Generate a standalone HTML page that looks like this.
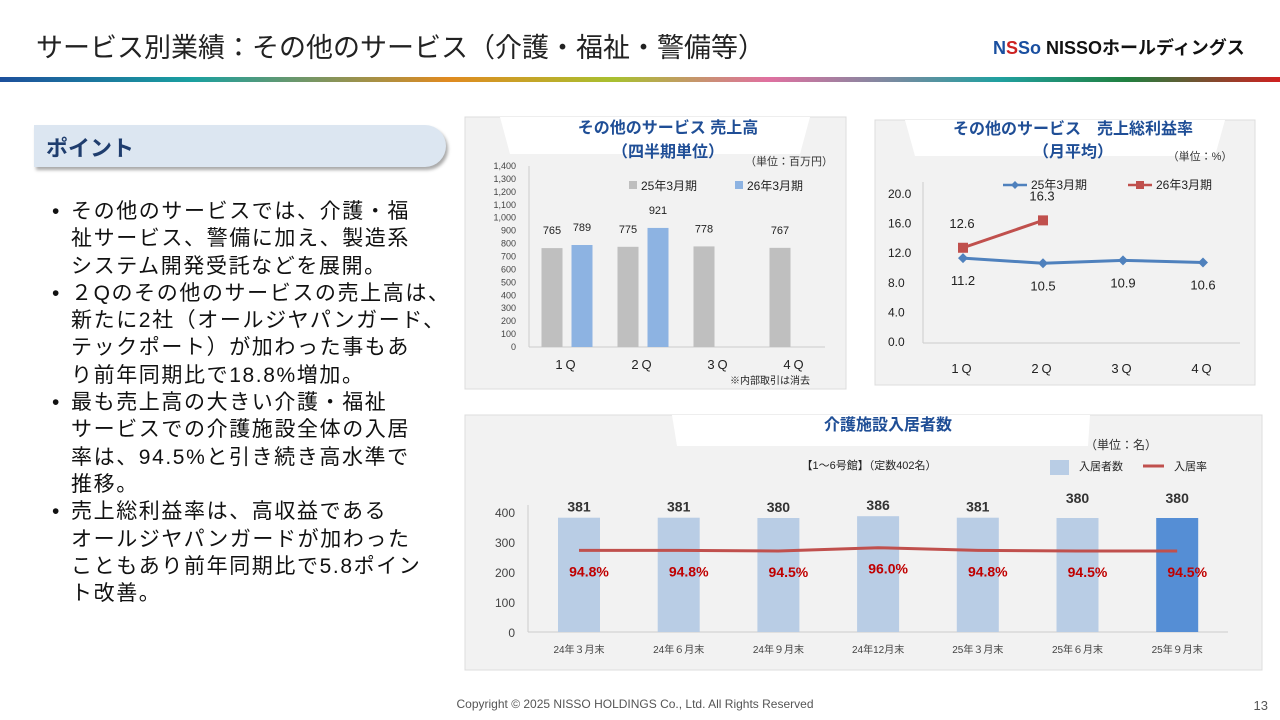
<!DOCTYPE html>
<html><head><meta charset="utf-8">
<style>
body{margin:0;width:1280px;height:720px;background:#fff;position:relative;overflow:hidden;font-family:"Liberation Sans","Noto Sans CJK JP",sans-serif;}
.abs{position:absolute;}
svg text{font-family:"Liberation Sans","Noto Sans CJK JP",sans-serif;}
.bl{display:flex;white-space:nowrap;}
.bl span:first-child{width:19px;letter-spacing:0;}
</style></head><body>
<div class="abs" style="left:36px;top:26px;font-size:27px;color:#222;white-space:nowrap;">サービス別業績：その他のサービス（介護・福祉・警備等）</div>
<div class="abs" style="left:993px;top:34px;font-size:18px;font-weight:bold;color:#111;white-space:nowrap;"><span style="color:#1a4fa0;">N<span style="color:#c22">S</span>So</span> NISSOホールディングス</div>
<div class="abs" style="left:0;top:77px;width:1280px;height:5px;background:linear-gradient(90deg,#1c4f9c,#1aa0a0 15%,#e08a20 35%,#a8c030 48%,#e070a0 60%,#20a0a0 78%,#208040 88%,#d02020);"></div>

<div class="abs" style="left:34px;top:125px;width:412px;height:42px;background:#dce6f1;border-radius:0 22px 22px 0;box-shadow:2px 3px 3px #aaa;"></div>
<div class="abs" style="left:46px;top:131px;font-size:22px;font-weight:bold;color:#1f3d6e;">ポイント</div>
<div class="abs" style="left:52px;top:198px;width:420px;font-size:21px;line-height:27.3px;color:#111;letter-spacing:1.6px;">
<div class="bl"><span>•</span><span>その他のサービスでは、介護・福<br>祉サービス、警備に加え、製造系<br>システム開発受託などを展開。</span></div>
<div class="bl"><span>•</span><span>２Qのその他のサービスの売上高は、<br>新たに2社（オールジヤパンガード、<br>テックポート）が加わった事もあ<br>り前年同期比で18.8%増加。</span></div>
<div class="bl"><span>•</span><span>最も売上高の大きい介護・福祉<br>サービスでの介護施設全体の入居<br>率は、94.5%と引き続き高水準で<br>推移。</span></div>
<div class="bl"><span>•</span><span>売上総利益率は、高収益である<br>オールジヤパンガードが加わった<br>こともあり前年同期比で5.8ポイン<br>ト改善。</span></div>
</div>

<svg class="abs" style="left:0;top:0" width="1280" height="720">
<g>
<rect x="465" y="117" width="381" height="272" fill="#f2f2f2" stroke="#ddd"/>
<polygon points="500,117 810,117 800,154 510,154" fill="#fff"/>
<text x="668" y="133" text-anchor="middle" font-size="16" font-weight="bold" fill="#1f4e96">その他のサービス 売上高</text>
<text x="668" y="157" text-anchor="middle" font-size="16" font-weight="bold" fill="#1f4e96">（四半期単位）</text>
<text x="789" y="165" text-anchor="middle" font-size="11" fill="#333">（単位：百万円）</text>
<rect x="629" y="181" width="8" height="8" fill="#bfbfbf"/><text x="641" y="190" font-size="12" fill="#222">25年3月期</text>
<rect x="735" y="181" width="8" height="8" fill="#8db3e2"/><text x="747" y="190" font-size="12" fill="#222">26年3月期</text>
<text x="810" y="384" text-anchor="end" font-size="10" fill="#222">※内部取引は消去</text>
<g id="c1"></g>
</g>
<g>
<rect x="875" y="120" width="380" height="265" fill="#f2f2f2" stroke="#ddd"/>
<polygon points="905,120 1225,120 1215,156 915,156" fill="#fff"/>
<text x="1073" y="134" text-anchor="middle" font-size="16" font-weight="bold" fill="#1f4e96">その他のサービス　売上総利益率</text>
<text x="1073" y="157" text-anchor="middle" font-size="16" font-weight="bold" fill="#1f4e96">（月平均）</text>
<text x="1200" y="160" text-anchor="middle" font-size="11" fill="#333">（単位：%）</text>
<line x1="1003" y1="185" x2="1027" y2="185" stroke="#4f81bd" stroke-width="2.5"/><polygon points="1015,181 1019,185 1015,189 1011,185" fill="#4f81bd"/>
<text x="1031" y="189" font-size="12" fill="#222">25年3月期</text>
<line x1="1128" y1="185" x2="1152" y2="185" stroke="#c0504d" stroke-width="2.5"/><rect x="1136" y="181" width="8" height="8" fill="#c0504d"/>
<text x="1156" y="189" font-size="12" fill="#222">26年3月期</text>
<g id="c2"></g>
</g>
<g>
<rect x="465" y="415" width="797" height="255" fill="#f2f2f2" stroke="#ddd"/>
<polygon points="672,415 1090,415 1088,446 677,446" fill="#fff"/>
<text x="888" y="430" text-anchor="middle" font-size="16" font-weight="bold" fill="#1f4e96">介護施設入居者数</text>
<text x="1121" y="449" text-anchor="middle" font-size="12" fill="#333">（単位：名）</text>
<text x="869" y="469" text-anchor="middle" font-size="11" fill="#222">【1～6号館】（定数402名）</text>
<rect x="1050" y="460" width="19" height="15" fill="#b9cde5"/><text x="1079" y="470" font-size="11" fill="#222">入居者数</text>
<line x1="1143" y1="466" x2="1164" y2="466" stroke="#c0504d" stroke-width="3"/><text x="1174" y="470" font-size="11" fill="#222">入居率</text>
<g id="c3"></g>
</g>
<text x="635" y="708" text-anchor="middle" font-size="12" fill="#555">Copyright © 2025 NISSO HOLDINGS Co., Ltd. All Rights Reserved</text>
<text x="1268" y="710" text-anchor="end" font-size="13" fill="#555">13</text>
</svg>
<script>
const salesCats=['1Q','2Q','3Q','4Q'];
const sales25=[765,775,778,767];
const sales26=[789,921,null,null];
const salesTicks=[0,100,200,300,400,500,600,700,800,900,1000,1100,1200,1300,1400];
const marginCats=['1Q','2Q','3Q','4Q'];
const margin25=[11.2,10.5,10.9,10.6];
const margin26=[12.6,16.3,null,null];
const marginTicks=[0,4,8,12,16,20];
const occCats=['24年３月末','24年６月末','24年９月末','24年12月末','25年３月末','25年６月末','25年９月末'];
const occValues=[381,381,380,386,381,380,380];
const occRates=[94.8,94.8,94.5,96.0,94.8,94.5,94.5];
const occTicks=[0,100,200,300,400];
const NS='http://www.w3.org/2000/svg';
function mk(p,t,a,txt){const e=document.createElementNS(NS,t);for(const k in a)e.setAttribute(k,a[k]);if(txt!=null)e.textContent=txt;p.appendChild(e);return e;}
// chart 1
(function(){const g=document.getElementById('c1');
const y=v=>347-v*181/1400, x=i=>567+i*76;
mk(g,'line',{x1:529,y1:166,x2:529,y2:347,stroke:'#ccc'});
mk(g,'line',{x1:529,y1:347,x2:825,y2:347,stroke:'#ccc'});
salesTicks.forEach(t=>{const e=mk(g,'text',{x:516,y:y(t)+3,'text-anchor':'end','font-size':9,fill:'#444'},t.toLocaleString('en-US'));

});
salesCats.forEach((c,i)=>{const e=mk(g,'text',{x:x(i),y:369,'text-anchor':'middle','font-size':13,fill:'#222','letter-spacing':'3'},c);


[[sales25[i],-15,'#bfbfbf'],[sales26[i],15,'#8db3e2']].forEach(([v,o,col])=>{if(v==null)return;
const r=mk(g,'rect',{x:x(i)+o-10.5,y:y(v),width:21,height:347-y(v),fill:col});


const lbl=mk(g,'text',{x:x(i)+o,y:y(v)-14,'text-anchor':'middle','font-size':11,fill:'#222'},v);

});});})();
// chart 2
(function(){const g=document.getElementById('c2');
const y=v=>341-v*7.4, x=i=>963+i*80;
mk(g,'line',{x1:923,y1:182,x2:923,y2:343,stroke:'#ccc'});
mk(g,'line',{x1:923,y1:343,x2:1240,y2:343,stroke:'#ccc'});
marginTicks.forEach(t=>{const e=mk(g,'text',{x:888,y:y(t)+5,'text-anchor':'start','font-size':12,fill:'#222'},t.toFixed(1));

});
marginCats.forEach((c,i)=>{const e=mk(g,'text',{x:x(i),y:373,'text-anchor':'middle','font-size':13,fill:'#222','letter-spacing':'3'},c);

});
const p25=margin25.map((v,i)=>x(i)+','+y(v)).join(' ');
const l1=mk(g,'polyline',{points:p25,fill:'none',stroke:'#4f81bd','stroke-width':3});


const p26=margin26.map((v,i)=>v==null?null:x(i)+','+y(v)).filter(Boolean).join(' ');
const l2=mk(g,'polyline',{points:p26,fill:'none',stroke:'#c0504d','stroke-width':3});


margin25.forEach((v,i)=>{const m=mk(g,'polygon',{points:`${x(i)},${y(v)-5} ${x(i)+5},${y(v)} ${x(i)},${y(v)+5} ${x(i)-5},${y(v)}`,fill:'#4f81bd'});


const t=mk(g,'text',{x:x(i),y:y(v)+27,'text-anchor':'middle','font-size':13,fill:'#222'},v.toFixed(1));

});
margin26.forEach((v,i)=>{if(v==null)return;const m=mk(g,'rect',{x:x(i)-5,y:y(v)-5,width:10,height:10,fill:'#c0504d'});


const t=mk(g,'text',{x:x(i)-1,y:y(v)-20,'text-anchor':'middle','font-size':13,fill:'#222'},v.toFixed(1));

});})();
// chart 3
(function(){const g=document.getElementById('c3');
const y=v=>632-v*0.3, x=i=>579+i*99.7, yr=r=>551-(r-94.5)*2.2;
mk(g,'line',{x1:528,y1:505,x2:528,y2:632,stroke:'#ccc'});
mk(g,'line',{x1:528,y1:632,x2:1228,y2:632,stroke:'#ccc'});
occTicks.forEach(t=>{const e=mk(g,'text',{x:515,y:y(t)+5,'text-anchor':'end','font-size':12,fill:'#444'},t);

});
occCats.forEach((c,i)=>{const e=mk(g,'text',{x:x(i),y:653,'text-anchor':'middle','font-size':10,fill:'#444'},c);


const v=occValues[i];
const r=mk(g,'rect',{x:x(i)-21,y:y(v),width:42,height:632-y(v),fill:i===occCats.length-1?'#558ed5':'#b9cde5'});


const t=mk(g,'text',{x:x(i),y:y(v)-6-(i>=5?9:0),'text-anchor':'middle','font-size':14,'font-weight':'bold',fill:'#333'},v);

});
const pts=occRates.map((r,i)=>x(i)+','+yr(r)).join(' ');
const l=mk(g,'polyline',{points:pts,fill:'none',stroke:'#c0504d','stroke-width':3,'stroke-linejoin':'round'});


occRates.forEach((r,i)=>{const t=mk(g,'text',{x:x(i)+10,y:yr(r)+26,'text-anchor':'middle','font-size':14,'font-weight':'bold',fill:'#c00000'},r.toFixed(1)+'%');

});})();
</script>
</body></html>
